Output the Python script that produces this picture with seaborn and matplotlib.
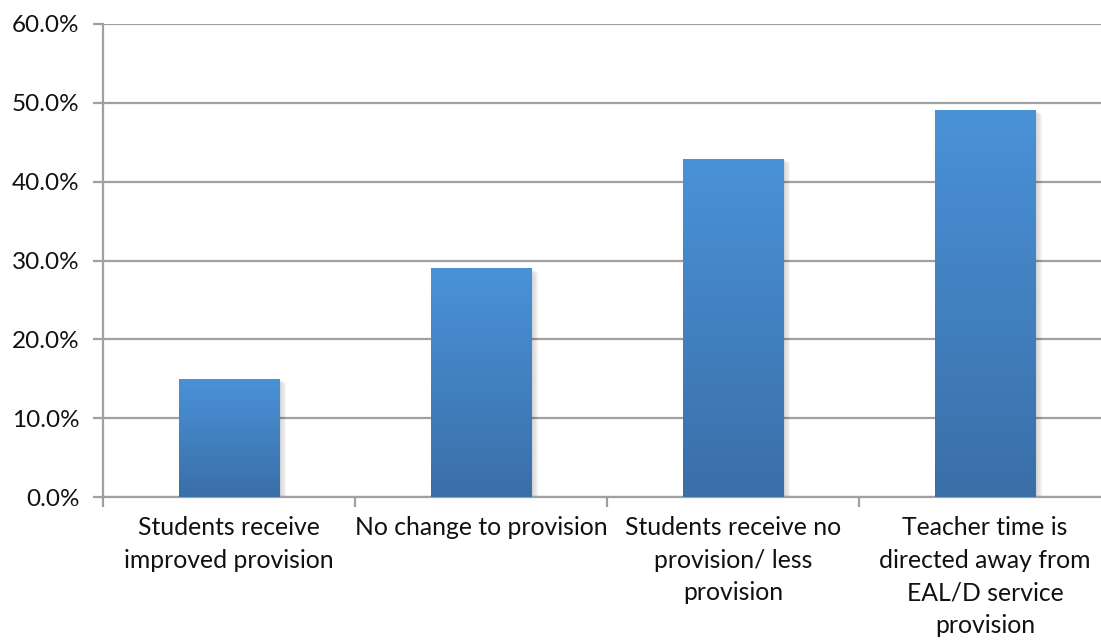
import numpy as np
import pandas as pd
import matplotlib
matplotlib.use("Agg")
import matplotlib.pyplot as plt
import matplotlib.patheffects as pe
from matplotlib.colors import LinearSegmentedColormap
from matplotlib.ticker import PercentFormatter, FixedLocator, NullFormatter
import seaborn as sns

categories = [
    "Students receive\nimproved provision",
    "No change to provision",
    "Students receive no\nprovision/ less\nprovision",
    "Teacher time is\ndirected away from\nEAL/D service\nprovision",
]
percentages = [15.0, 29.0, 42.9, 49.1]
y_ticks = [0, 10, 20, 30, 40, 50, 60]

df = pd.DataFrame({"category": categories, "pct": percentages})

sns.set_theme(style="white")
plt.rcParams["font.family"] = ["Lato", "DejaVu Sans"]

W, H = 1101, 640
fig = plt.figure(figsize=(W / 100, H / 100), dpi=100)
# axes span extends slightly past the right edge of the canvas
ax = fig.add_axes([103 / W, (H - 497) / H, 1008 / W, (497 - 24) / H])

sns.barplot(data=df, x="category", y="pct", ax=ax, width=0.4,
            color="#4a8fd4", saturation=1, zorder=3)

ax.set_xlim(-0.5, len(categories) - 0.5)
ax.set_ylim(0, 60)
ax.yaxis.set_major_locator(FixedLocator(y_ticks))
ax.yaxis.set_major_formatter(PercentFormatter(decimals=1))
ax.grid(axis="y", color="#a0a0a0", linewidth=1.6, zorder=0)
ax.set_axisbelow(True)

# vertical gradient fill for each bar, plus a soft drop shadow
cmap = LinearSegmentedColormap.from_list("bar", ["#3a6fa8", "#4a92d8"])
grad = np.linspace(0, 1, 256).reshape(-1, 1)
shadow_fx = [pe.SimplePatchShadow(offset=(d, -d * 0.6), shadow_rgbFace="#000000",
                                  alpha=0.035)
             for d in (1, 2, 3, 4, 5)]
for patch in list(ax.patches):
    x0, y0 = patch.get_x(), patch.get_y()
    w, h = patch.get_width(), patch.get_height()
    patch.set_facecolor("none")
    patch.set_edgecolor("none")
    shadow = plt.Rectangle((x0, y0), w, h, facecolor="white", edgecolor="none",
                           zorder=2.5, path_effects=shadow_fx)
    ax.add_patch(shadow)
    im = ax.imshow(grad, extent=[x0, x0 + w, y0, y0 + h], origin="lower",
                   cmap=cmap, aspect="auto", zorder=3)
    im.set_clip_path(patch)

ax.set_xlim(-0.5, len(categories) - 0.5)
ax.set_ylim(0, 60)

for side in ["top", "right"]:
    ax.spines[side].set_visible(False)
for side in ["left", "bottom"]:
    ax.spines[side].set_color("#a0a0a0")
    ax.spines[side].set_linewidth(1.6)

ax.set_xlabel("")
ax.set_ylabel("")
ax.tick_params(axis="y", which="major", length=7, width=1.6, color="#a0a0a0",
               labelsize=17.5, labelcolor="#111111", pad=10, left=True)
ax.tick_params(axis="x", which="major", length=0, labelsize=17.8,
               labelcolor="#111111", pad=14)
ax.set_xticks(range(len(categories)))
ax.set_xticklabels(categories, linespacing=1.5, va="top")
ax.xaxis.set_minor_locator(FixedLocator(np.arange(-0.5, len(categories), 1.0)))
ax.xaxis.set_minor_formatter(NullFormatter())
ax.tick_params(axis="x", which="minor", length=7, width=1.6, color="#a0a0a0",
               bottom=True)

fig.savefig("out.png", dpi=100, facecolor="white")
